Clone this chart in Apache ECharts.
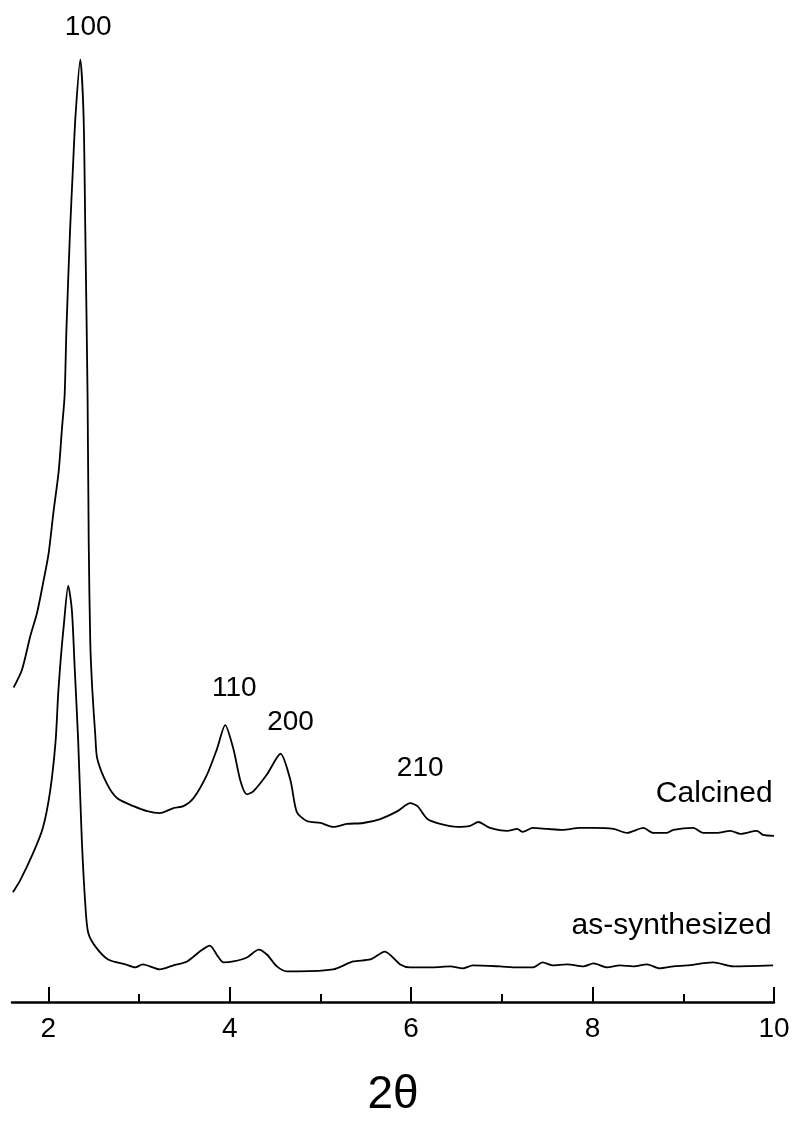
<!DOCTYPE html>
<html>
<head>
<meta charset="utf-8">
<script src="https://cdn.jsdelivr.net/npm/echarts@6/dist/echarts.min.js"></script>
<style>
  html, body { margin: 0; padding: 0; background: #fff; }
  #chart { width: 795px; height: 1123px; }
</style>
</head>
<body>
<div id="chart"></div>
<script>
  // 2theta, intensity (arbitrary units)
  const calcined = [
    [1.618, 318], [1.710, 336], [1.802, 370], [1.875, 393], [1.948, 426], [2.003, 453],
    [2.058, 496], [2.114, 536], [2.151, 580], [2.18, 613], [2.20, 680], [2.24, 780],
    [2.27, 840], [2.30, 896], [2.353, 953], [2.389, 896], [2.408, 780], [2.433, 613],
    [2.446, 463], [2.463, 363], [2.485, 316], [2.518, 270], [2.54, 246], [2.65, 220],
    [2.76, 206], [2.94, 198], [3.09, 193], [3.23, 191], [3.38, 196], [3.49, 198],
    [3.60, 206], [3.75, 230], [3.86, 256], [3.95, 280], [4.04, 256], [4.12, 223],
    [4.19, 210], [4.26, 213], [4.41, 230], [4.56, 251], [4.67, 224], [4.74, 192],
    [4.85, 183], [5.00, 181], [5.14, 177], [5.29, 180], [5.47, 181], [5.66, 185],
    [5.85, 193], [5.99, 201], [6.07, 198], [6.18, 185], [6.32, 180], [6.51, 177],
    [6.65, 178], [6.74, 182], [6.87, 176], [7.06, 173], [7.17, 175], [7.23, 172],
    [7.34, 176], [7.50, 175], [7.67, 174], [7.86, 176], [8.01, 176], [8.23, 175],
    [8.38, 171], [8.56, 176], [8.67, 171], [8.82, 171], [8.89, 174], [9.11, 176],
    [9.22, 171], [9.37, 171], [9.52, 173], [9.63, 170], [9.81, 173], [9.88, 169],
    [10.0, 168]
  ];

  const asSynthesized = [
    [1.61, 111], [1.69, 123], [1.83, 150], [1.94, 176], [2.02, 213], [2.08, 263],
    [2.11, 313], [2.14, 350], [2.17, 380], [2.22, 421], [2.26, 396], [2.29, 340],
    [2.33, 263], [2.37, 163], [2.41, 96], [2.44, 70], [2.52, 56], [2.66, 43],
    [2.85, 38], [2.96, 35], [3.04, 38], [3.23, 33], [3.38, 37], [3.53, 41],
    [3.67, 51], [3.78, 57], [3.87, 46], [3.93, 40], [4.04, 41], [4.19, 45],
    [4.32, 53], [4.41, 48], [4.52, 36], [4.63, 31], [4.75, 31], [5.14, 33],
    [5.36, 41], [5.55, 43], [5.71, 51], [5.88, 38], [5.99, 35], [6.24, 35],
    [6.43, 36], [6.57, 34], [6.68, 37], [6.98, 36], [7.17, 35], [7.34, 35],
    [7.45, 40], [7.56, 37], [7.72, 38], [7.90, 36], [8.01, 39], [8.16, 35],
    [8.30, 37], [8.45, 36], [8.60, 38], [8.74, 34], [8.89, 36], [9.04, 37],
    [9.33, 40], [9.55, 36], [9.99, 37]
  ];

  // reflection indices, placed in data coordinates
  const peakLabels = [
    { name: '100', value: [2.44, 986] },
    { name: '110', value: [4.05, 317] },
    { name: '200', value: [4.67, 283] },
    { name: '210', value: [6.10, 236] }
  ];
  const curveNames = [
    { name: 'Calcined', value: [9.99, 211] },
    { name: 'as-synthesized', value: [9.98, 77] }
  ];

  const majorTicks = [2, 4, 6, 8, 10];
  const minorTicks = [3, 5, 7, 9];

  const chart = echarts.init(document.getElementById('chart'));
  const font = "'Liberation Sans', Arial, sans-serif";
  const hidden = 'rgba(0,0,0,0)';

  const textLabel = (position, size) => ({
    show: true,
    position: position,
    distance: 0,
    formatter: '{b}',
    fontSize: size,
    color: '#000',
    opacity: 1,
    textBorderWidth: 0,
    fontFamily: font
  });

  chart.setOption({
    animation: false,
    backgroundColor: '#fff',
    grid: { left: 12, right: 21, top: 13, bottom: 110, containLabel: false },
    xAxis: [
      {
        type: 'value',
        min: 1.6,
        max: 10,
        name: '2θ',
        nameLocation: 'middle',
        nameGap: 70,
        nameTextStyle: { fontSize: 46, color: '#000', fontFamily: font },
        axisLine: { lineStyle: { color: '#000', width: 2.5 } },
        axisTick: {
          inside: true,
          length: 15,
          customValues: majorTicks,
          lineStyle: { color: '#000', width: 2 }
        },
        axisLabel: {
          customValues: majorTicks,
          margin: 13,
          fontSize: 28,
          color: '#000',
          fontFamily: font
        },
        splitLine: { show: false }
      },
      {
        type: 'value',
        min: 1.6,
        max: 10,
        position: 'bottom',
        axisLine: { show: false },
        axisTick: {
          inside: true,
          length: 8,
          customValues: minorTicks,
          lineStyle: { color: '#000', width: 2 }
        },
        axisLabel: { show: false },
        splitLine: { show: false }
      }
    ],
    yAxis: { type: 'value', min: 0, max: 1000, show: false },
    series: [
      {
        name: 'Calcined',
        type: 'line',
        data: calcined,
        showSymbol: false,
        smooth: 0.25,
        lineStyle: { color: '#000', width: 1.8 }
      },
      {
        name: 'as-synthesized',
        type: 'line',
        data: asSynthesized,
        showSymbol: false,
        smooth: 0.25,
        lineStyle: { color: '#000', width: 1.8 }
      },
      {
        type: 'scatter',
        data: peakLabels,
        symbolSize: 1,
        silent: true,
        itemStyle: { color: hidden },
        label: textLabel('inside', 28)
      },
      {
        type: 'scatter',
        data: curveNames,
        symbolSize: 1,
        silent: true,
        itemStyle: { color: hidden },
        label: textLabel('left', 30)
      }
    ]
  });
</script>
</body>
</html>
